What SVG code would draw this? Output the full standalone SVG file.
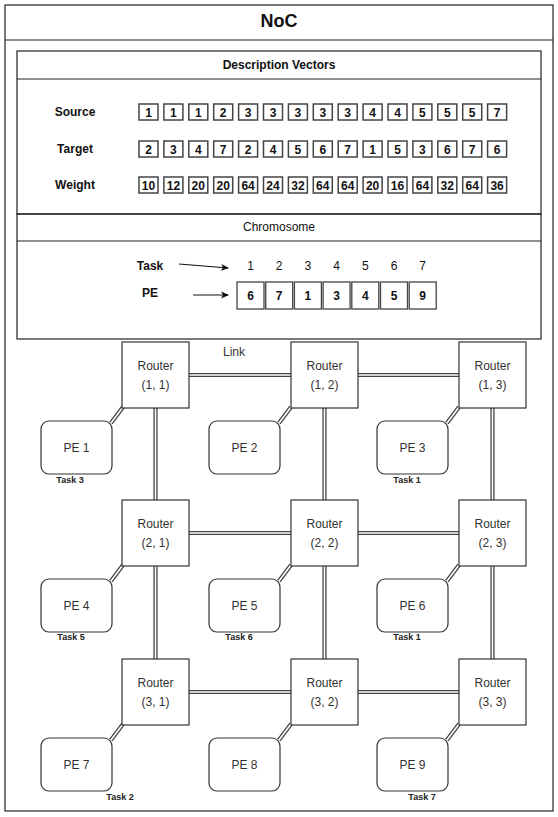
<svg xmlns="http://www.w3.org/2000/svg" width="558" height="817" viewBox="0 0 558 817">
<style>
text{font-family:"Liberation Sans",Arial,sans-serif;fill:#111;text-anchor:middle}
.frame{fill:none;stroke:#222;stroke-width:1.2}
.b{font-weight:bold}
.t12{font-size:12px}
.vb{fill:#fff;stroke:#444;stroke-width:1.5}
.vt{font-size:12px;font-weight:bold}
.cb{fill:#fff;stroke:#444;stroke-width:1.3}
.router{fill:#fff;stroke:#333;stroke-width:1.2}
.pe{fill:#fff;stroke:#333;stroke-width:1.2}
.nt{font-size:12px;fill:#333}
.task{font-size:9px;font-weight:bold;fill:#222}
.lo{fill:none;stroke:#444;stroke-width:4.2}
.li{fill:none;stroke:#fff;stroke-width:1.6}
.arr{stroke:#111;stroke-width:1.2;fill:none}
</style>
<defs>
<marker id="ah" markerWidth="8" markerHeight="8" refX="7" refY="4" orient="auto" markerUnits="userSpaceOnUse">
<path d="M0,0.5 L8,4 L0,7.5 L2,4 Z" fill="#111"/>
</marker>
</defs>
<rect x="0" y="0" width="558" height="817" fill="#fff"/>
<g id="outer">
<rect class="frame" x="5" y="5" width="548" height="806" fill="#fff"/>
<line class="frame" x1="5" y1="40" x2="553" y2="40"/>
<text x="279" y="27" class="b" font-size="18">NoC</text>
</g>
<g id="description">
<rect class="frame" x="17" y="51" width="524" height="163"/>
<line class="frame" x1="17" y1="79" x2="541" y2="79"/>
<text x="279" y="69" class="b t12">Description Vectors</text>
<text x="75" y="116" class="b t12">Source</text>
<text x="75" y="153" class="b t12">Target</text>
<text x="75" y="189" class="b t12">Weight</text>
<g id="source-row">
<rect class="vb" x="139" y="104" width="19" height="16"/><text class="vt" x="148.5" y="116.5">1</text>
<rect class="vb" x="163.9" y="104" width="19" height="16"/><text class="vt" x="173.4" y="116.5">1</text>
<rect class="vb" x="188.8" y="104" width="19" height="16"/><text class="vt" x="198.3" y="116.5">1</text>
<rect class="vb" x="213.7" y="104" width="19" height="16"/><text class="vt" x="223.2" y="116.5">2</text>
<rect class="vb" x="238.6" y="104" width="19" height="16"/><text class="vt" x="248.1" y="116.5">3</text>
<rect class="vb" x="263.5" y="104" width="19" height="16"/><text class="vt" x="273" y="116.5">3</text>
<rect class="vb" x="288.4" y="104" width="19" height="16"/><text class="vt" x="297.9" y="116.5">3</text>
<rect class="vb" x="313.3" y="104" width="19" height="16"/><text class="vt" x="322.8" y="116.5">3</text>
<rect class="vb" x="338.2" y="104" width="19" height="16"/><text class="vt" x="347.7" y="116.5">3</text>
<rect class="vb" x="363.1" y="104" width="19" height="16"/><text class="vt" x="372.6" y="116.5">4</text>
<rect class="vb" x="388" y="104" width="19" height="16"/><text class="vt" x="397.5" y="116.5">4</text>
<rect class="vb" x="412.9" y="104" width="19" height="16"/><text class="vt" x="422.4" y="116.5">5</text>
<rect class="vb" x="437.8" y="104" width="19" height="16"/><text class="vt" x="447.3" y="116.5">5</text>
<rect class="vb" x="462.7" y="104" width="19" height="16"/><text class="vt" x="472.2" y="116.5">5</text>
<rect class="vb" x="487.6" y="104" width="19" height="16"/><text class="vt" x="497.1" y="116.5">7</text>
</g>
<g id="target-row">
<rect class="vb" x="139" y="141" width="19" height="16"/><text class="vt" x="148.5" y="153.5">2</text>
<rect class="vb" x="163.9" y="141" width="19" height="16"/><text class="vt" x="173.4" y="153.5">3</text>
<rect class="vb" x="188.8" y="141" width="19" height="16"/><text class="vt" x="198.3" y="153.5">4</text>
<rect class="vb" x="213.7" y="141" width="19" height="16"/><text class="vt" x="223.2" y="153.5">7</text>
<rect class="vb" x="238.6" y="141" width="19" height="16"/><text class="vt" x="248.1" y="153.5">2</text>
<rect class="vb" x="263.5" y="141" width="19" height="16"/><text class="vt" x="273" y="153.5">4</text>
<rect class="vb" x="288.4" y="141" width="19" height="16"/><text class="vt" x="297.9" y="153.5">5</text>
<rect class="vb" x="313.3" y="141" width="19" height="16"/><text class="vt" x="322.8" y="153.5">6</text>
<rect class="vb" x="338.2" y="141" width="19" height="16"/><text class="vt" x="347.7" y="153.5">7</text>
<rect class="vb" x="363.1" y="141" width="19" height="16"/><text class="vt" x="372.6" y="153.5">1</text>
<rect class="vb" x="388" y="141" width="19" height="16"/><text class="vt" x="397.5" y="153.5">5</text>
<rect class="vb" x="412.9" y="141" width="19" height="16"/><text class="vt" x="422.4" y="153.5">3</text>
<rect class="vb" x="437.8" y="141" width="19" height="16"/><text class="vt" x="447.3" y="153.5">6</text>
<rect class="vb" x="462.7" y="141" width="19" height="16"/><text class="vt" x="472.2" y="153.5">7</text>
<rect class="vb" x="487.6" y="141" width="19" height="16"/><text class="vt" x="497.1" y="153.5">6</text>
</g>
<g id="weight-row">
<rect class="vb" x="139" y="177" width="19" height="16"/><text class="vt" x="148.5" y="189.5">10</text>
<rect class="vb" x="163.9" y="177" width="19" height="16"/><text class="vt" x="173.4" y="189.5">12</text>
<rect class="vb" x="188.8" y="177" width="19" height="16"/><text class="vt" x="198.3" y="189.5">20</text>
<rect class="vb" x="213.7" y="177" width="19" height="16"/><text class="vt" x="223.2" y="189.5">20</text>
<rect class="vb" x="238.6" y="177" width="19" height="16"/><text class="vt" x="248.1" y="189.5">64</text>
<rect class="vb" x="263.5" y="177" width="19" height="16"/><text class="vt" x="273" y="189.5">24</text>
<rect class="vb" x="288.4" y="177" width="19" height="16"/><text class="vt" x="297.9" y="189.5">32</text>
<rect class="vb" x="313.3" y="177" width="19" height="16"/><text class="vt" x="322.8" y="189.5">64</text>
<rect class="vb" x="338.2" y="177" width="19" height="16"/><text class="vt" x="347.7" y="189.5">64</text>
<rect class="vb" x="363.1" y="177" width="19" height="16"/><text class="vt" x="372.6" y="189.5">20</text>
<rect class="vb" x="388" y="177" width="19" height="16"/><text class="vt" x="397.5" y="189.5">16</text>
<rect class="vb" x="412.9" y="177" width="19" height="16"/><text class="vt" x="422.4" y="189.5">64</text>
<rect class="vb" x="437.8" y="177" width="19" height="16"/><text class="vt" x="447.3" y="189.5">32</text>
<rect class="vb" x="462.7" y="177" width="19" height="16"/><text class="vt" x="472.2" y="189.5">64</text>
<rect class="vb" x="487.6" y="177" width="19" height="16"/><text class="vt" x="497.1" y="189.5">36</text>
</g>
</g>
<g id="chromosome">
<rect class="frame" x="17" y="214" width="524" height="125"/>
<line class="frame" x1="17" y1="241" x2="541" y2="241"/>
<text x="279" y="231" class="t12">Chromosome</text>
<text x="150" y="270" class="b t12">Task</text>
<text x="150" y="297" class="b t12">PE</text>
<line class="arr" x1="179" y1="264" x2="228" y2="268" marker-end="url(#ah)"/>
<line class="arr" x1="193" y1="295" x2="228" y2="295" marker-end="url(#ah)"/>
<text class="t12" x="250.5" y="270">1</text>
<text class="t12" x="279.2" y="270">2</text>
<text class="t12" x="307.9" y="270">3</text>
<text class="t12" x="336.6" y="270">4</text>
<text class="t12" x="365.3" y="270">5</text>
<text class="t12" x="394" y="270">6</text>
<text class="t12" x="422.7" y="270">7</text>
<rect class="cb" x="237" y="282" width="27" height="27"/><text class="b t12" x="250.5" y="300">6</text>
<rect class="cb" x="265.7" y="282" width="27" height="27"/><text class="b t12" x="279.2" y="300">7</text>
<rect class="cb" x="294.4" y="282" width="27" height="27"/><text class="b t12" x="307.9" y="300">1</text>
<rect class="cb" x="323.1" y="282" width="27" height="27"/><text class="b t12" x="336.6" y="300">3</text>
<rect class="cb" x="351.8" y="282" width="27" height="27"/><text class="b t12" x="365.3" y="300">4</text>
<rect class="cb" x="380.5" y="282" width="27" height="27"/><text class="b t12" x="394" y="300">5</text>
<rect class="cb" x="409.2" y="282" width="27" height="27"/><text class="b t12" x="422.7" y="300">9</text>
</g>
<g id="connectors">
<path class="lo" d="M189,375H291M358,375H459M189,533H291M358,533H459M189,692H291M358,692H459M155.5,408V500M324.5,408V500M492.5,408V500M155.5,566V659M324.5,566V659M492.5,566V659M111,423L123,407M279,423L291,407M447,423L459,407M111,581L123,565M279,581L291,565M447,581L459,565M111,740L123,724M279,740L291,724M447,740L459,724"/>
<path class="li" d="M189,375H291M358,375H459M189,533H291M358,533H459M189,692H291M358,692H459M155.5,408V500M324.5,408V500M492.5,408V500M155.5,566V659M324.5,566V659M492.5,566V659M111,423L123,407M279,423L291,407M447,423L459,407M111,581L123,565M279,581L291,565M447,581L459,565M111,740L123,724M279,740L291,724M447,740L459,724"/>
<text class="t12" x="234" y="356" style="fill:#333">Link</text>
</g>
<g id="router-1-1"><rect class="router" x="122" y="342" width="67" height="66"/><text class="nt" x="155.5" y="370">Router</text><text class="nt" x="155.5" y="389">(1, 1)</text></g>
<g id="router-1-2"><rect class="router" x="291" y="342" width="67" height="66"/><text class="nt" x="324.5" y="370">Router</text><text class="nt" x="324.5" y="389">(1, 2)</text></g>
<g id="router-1-3"><rect class="router" x="459" y="342" width="67" height="66"/><text class="nt" x="492.5" y="370">Router</text><text class="nt" x="492.5" y="389">(1, 3)</text></g>
<g id="router-2-1"><rect class="router" x="122" y="500" width="67" height="66"/><text class="nt" x="155.5" y="528">Router</text><text class="nt" x="155.5" y="547">(2, 1)</text></g>
<g id="router-2-2"><rect class="router" x="291" y="500" width="67" height="66"/><text class="nt" x="324.5" y="528">Router</text><text class="nt" x="324.5" y="547">(2, 2)</text></g>
<g id="router-2-3"><rect class="router" x="459" y="500" width="67" height="66"/><text class="nt" x="492.5" y="528">Router</text><text class="nt" x="492.5" y="547">(2, 3)</text></g>
<g id="router-3-1"><rect class="router" x="122" y="659" width="67" height="66"/><text class="nt" x="155.5" y="687">Router</text><text class="nt" x="155.5" y="706">(3, 1)</text></g>
<g id="router-3-2"><rect class="router" x="291" y="659" width="67" height="66"/><text class="nt" x="324.5" y="687">Router</text><text class="nt" x="324.5" y="706">(3, 2)</text></g>
<g id="router-3-3"><rect class="router" x="459" y="659" width="67" height="66"/><text class="nt" x="492.5" y="687">Router</text><text class="nt" x="492.5" y="706">(3, 3)</text></g>
<g id="pe-1"><rect class="pe" x="41" y="421" width="71" height="53" rx="8"/><text class="nt" x="76.5" y="451.5">PE 1</text><text class="task" x="70" y="483">Task 3</text></g>
<g id="pe-2"><rect class="pe" x="209" y="421" width="71" height="53" rx="8"/><text class="nt" x="244.5" y="451.5">PE 2</text></g>
<g id="pe-3"><rect class="pe" x="377" y="421" width="71" height="53" rx="8"/><text class="nt" x="412.5" y="451.5">PE 3</text><text class="task" x="407" y="483">Task 1</text></g>
<g id="pe-4"><rect class="pe" x="41" y="579" width="71" height="53" rx="8"/><text class="nt" x="76.5" y="609.5">PE 4</text><text class="task" x="71" y="640">Task 5</text></g>
<g id="pe-5"><rect class="pe" x="209" y="579" width="71" height="53" rx="8"/><text class="nt" x="244.5" y="609.5">PE 5</text><text class="task" x="239" y="640">Task 6</text></g>
<g id="pe-6"><rect class="pe" x="377" y="579" width="71" height="53" rx="8"/><text class="nt" x="412.5" y="609.5">PE 6</text><text class="task" x="407" y="640">Task 1</text></g>
<g id="pe-7"><rect class="pe" x="41" y="738" width="71" height="53" rx="8"/><text class="nt" x="76.5" y="768.5">PE 7</text><text class="task" x="120" y="800">Task 2</text></g>
<g id="pe-8"><rect class="pe" x="209" y="738" width="71" height="53" rx="8"/><text class="nt" x="244.5" y="768.5">PE 8</text></g>
<g id="pe-9"><rect class="pe" x="377" y="738" width="71" height="53" rx="8"/><text class="nt" x="412.5" y="768.5">PE 9</text><text class="task" x="422" y="800">Task 7</text></g>
</svg>
